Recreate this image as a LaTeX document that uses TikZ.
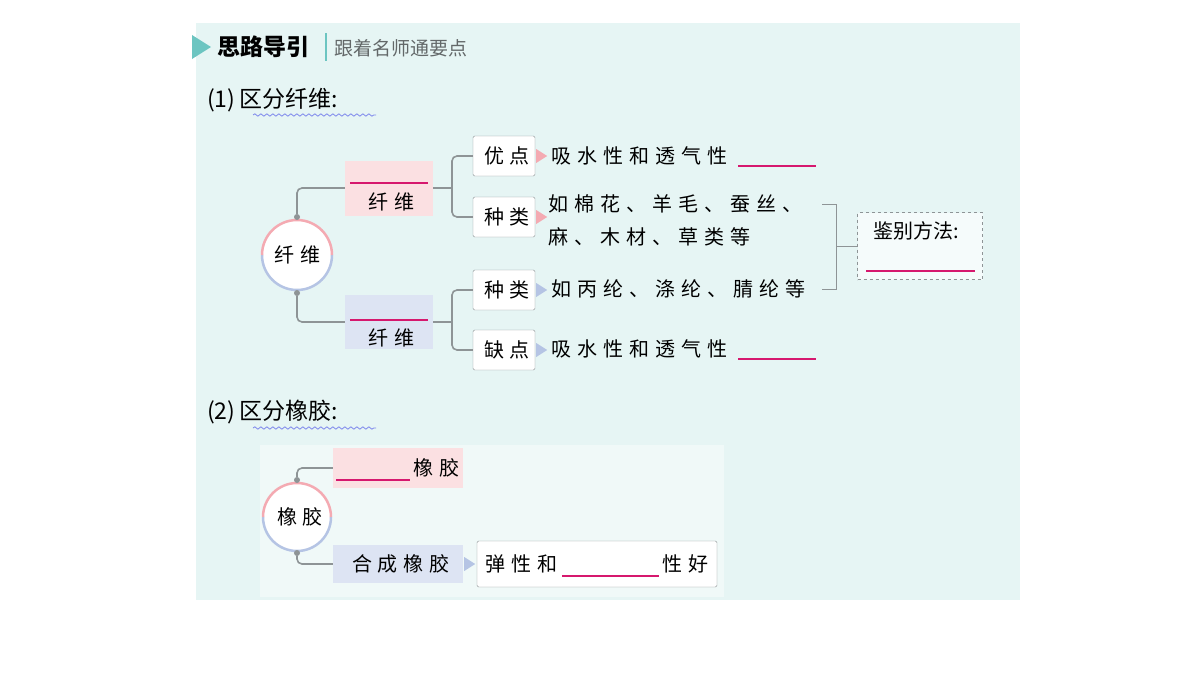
\documentclass[tikz,border=0pt]{standalone}
\usepackage{fontspec}
\newfontfamily\cjk[LetterSpace=30]{Noto Sans CJK SC}
\newfontfamily\cjkh{Noto Sans CJK SC}
\usetikzlibrary{decorations.pathmorphing}
\definecolor{bgc}{HTML}{E6F5F4}
\definecolor{pinkf}{HTML}{FBE0E2}
\definecolor{bluef}{HTML}{DDE4F3}
\definecolor{pinkl}{HTML}{F4AAB2}
\definecolor{bluel}{HTML}{B5C4E4}
\definecolor{mag}{HTML}{D6186E}
\definecolor{teal}{HTML}{6CC5C1}
\definecolor{gl}{HTML}{8E9496}
\tikzset{
 txt/.style={font=\cjk\fontsize{20}{24}\selectfont, anchor=west, inner sep=0},
 wbox/.style={draw=gl, fill=white, rounded corners=1.5, minimum width=62, minimum height=40, font=\cjk\fontsize{20}{24}\selectfont, inner sep=0},
 conn/.style={draw=gl, line width=1.6, rounded corners=5},
 blank/.style={draw=mag, line width=1.2},
 dotn/.style={circle, fill=gl, inner sep=0, minimum size=6},
 wavy/.style={draw=bluel!70!blue, line width=0.8, decorate, decoration={snake, amplitude=1.2, segment length=6}},
}
\begin{document}
\begin{tikzpicture}[x=1pt,y=-1pt]
\useasboundingbox (0,0) rectangle (1200,675);
\fill[white] (0,0) rectangle (1200,675);
\fill[bgc] (196,23) rectangle (1020,600);
% header
\fill[teal] (192,35) -- (211,47) -- (192,59) -- cycle;
\node[txt, font=\cjkh\bfseries\fontsize{23}{26}\selectfont] (hd) at (217,47) {思路导引};
\draw[teal, line width=1.5] (326,33) -- (326,61);
\node[txt, font=\cjkh\fontsize{19}{20}\selectfont, text=gl!70!black] (sub) at (334,48) {跟着名师通要点};
% part 1
\node[txt, font=\cjkh\fontsize{23}{26}\selectfont] (t1) at (207,100) {(1)\,区分纤维:};
\draw[wavy] (253,115) -- (376,115);
% circle
\node[circle, fill=white, minimum size=70, inner sep=0, font=\cjk\fontsize{20}{24}\selectfont] (c1) at (297,255) {纤维};
\draw[bluel, line width=2.5] (262,255) arc[start angle=180, end angle=0, radius=35];
\draw[pinkl, line width=2.5] (332,255) arc[start angle=0, end angle=-180, radius=35];
\node[dotn] (d1) at (297,217) {};
\node[dotn] (d2) at (297,293) {};
% category boxes
\node[fill=pinkf, minimum width=88, minimum height=55, inner sep=0] (nat) at (389,188) {};
\node[font=\cjk\fontsize{20}{24}\selectfont] (natt) at (391,202) {纤维};
\draw[blank] (350,183) -- (428,183);
\node[fill=bluef, minimum width=88, minimum height=54, inner sep=0] (syn) at (389,322) {};
\node[font=\cjk\fontsize{20}{24}\selectfont] (synt) at (391,338) {纤维};
\draw[blank] (350,320) -- (428,320);
\draw[conn] (d1) |- (nat.west);
\draw[conn] (d2) |- (syn.west);
% right boxes
\node[wbox] (b1) at (504,156) {\hspace*{6pt}优点};
\node[wbox] (b2) at (504,217) {\hspace*{6pt}种类};
\node[wbox] (b3) at (504,290) {\hspace*{6pt}种类};
\node[wbox] (b4) at (504,350) {\hspace*{6pt}缺点};
\coordinate (j1) at (452,188);
\coordinate (j2) at (452,322);
\draw[conn, rounded corners=0] (nat.east) -- (j1);
\draw[conn] (j1) |- (b1.west);
\draw[conn] (j1) |- (b2.west);
\draw[conn, rounded corners=0] (syn.east) -- (j2);
\draw[conn] (j2) |- (b3.west);
\draw[conn] (j2) |- (b4.west);
% arrows
\fill[pinkl] (b1.east) ++(1,-7) -- ++(11,7) -- ++(-11,7) -- cycle;
\fill[pinkl] (b2.east) ++(1,-7) -- ++(11,7) -- ++(-11,7) -- cycle;
\fill[bluel] (b3.east) ++(1,-7) -- ++(11,7) -- ++(-11,7) -- cycle;
\fill[bluel] (b4.east) ++(1,-7) -- ++(11,7) -- ++(-11,7) -- cycle;
% texts
\node[txt] (x1) at (551,156) {吸水性和透气性};
\draw[blank] (738,166) -- (816,166);
\node[txt] (x2a) at (548,204) {如棉花、羊毛、蚕丝、};
\node[txt] (x2b) at (548,237) {麻、木材、草类等};
\node[txt] (x3) at (551,289) {如丙纶、涤纶、腈纶等};
\node[txt] (x4) at (551,349) {吸水性和透气性};
\draw[blank] (738,359) -- (816,359);
% bracket
\coordinate (k1) at (822,204);
\coordinate (k2) at (822,289);
\node[draw=gl, dashed, fill=white!60!bgc, minimum width=125, minimum height=67, inner sep=0] (jb) at (920,246) {};
\node[font=\cjkh\fontsize{20}{24}\selectfont] (jbt) at (916,231) {鉴别方法:};
\draw[blank] (866,271) -- (975,271);
\draw[gl, line width=1] (k1) -- ++(14,0) |- (k2);
\draw[gl, line width=1] (836,246) -- (jb.west);
% part 2
\node[txt, font=\cjkh\fontsize{23}{26}\selectfont] (t2) at (207,412) {(2)\,区分橡胶:};
\draw[wavy] (253,428) -- (376,428);
\fill[white!40!bgc] (260,445) rectangle (724,597);
\node[circle, fill=white, minimum size=68, inner sep=0, font=\cjk\fontsize{20}{24}\selectfont] (c2) at (297,517) {\hspace*{6pt}橡胶};
\draw[bluel, line width=2.5] (263,517) arc[start angle=180, end angle=0, radius=34];
\draw[pinkl, line width=2.5] (331,517) arc[start angle=0, end angle=-180, radius=34];
\node[dotn] (d3) at (297,480) {};
\node[dotn] (d4) at (297,553) {};
\node[fill=pinkf, minimum width=130, minimum height=40, inner sep=0] (r1) at (398,468) {};
\draw[blank] (336,480) -- (410,480);
\node[txt] (r1t) at (413,468) {橡胶};
\node[fill=bluef, minimum width=130, minimum height=38, inner sep=0, font=\cjk\fontsize{20}{24}\selectfont] (r2) at (398,564) {\hspace*{6pt}合成橡胶};
\draw[conn] (d3) |- (r1.west);
\draw[conn] (d4) |- (r2.west);
\fill[bluel] (r2.east) ++(1,-7) -- ++(11,7) -- ++(-11,7) -- cycle;
\node[draw=gl, fill=white, rounded corners=1.5, minimum width=240, minimum height=46, inner sep=0] (r3) at (597,564) {};
\node[txt] (r3a) at (485,564) {弹性和};
\draw[blank] (562,576) -- (659,576);
\node[txt] (r3b) at (662,564) {性好};
\end{tikzpicture}
\end{document}
